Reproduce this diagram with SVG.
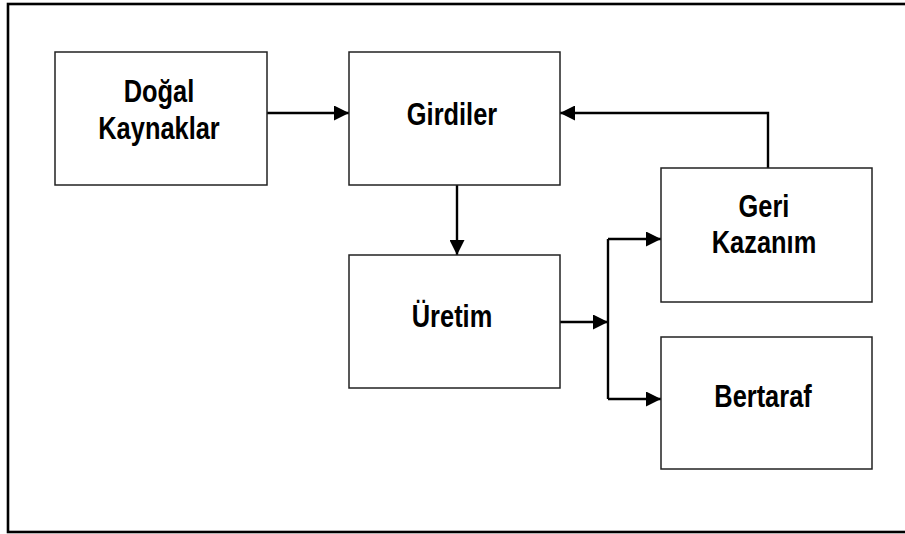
<svg xmlns="http://www.w3.org/2000/svg" width="905" height="534" viewBox="0 0 905 534">
  <style>
    .frame { fill: none; stroke: #000; stroke-width: 2.6; }
    .box { fill: #fff; stroke: #222; stroke-width: 1.5; }
    .lbl { font-family: "Liberation Sans", Arial, sans-serif; font-weight: bold; font-size: 31px; fill: #000; text-anchor: middle; }
    .con { fill: none; stroke: #000; stroke-width: 2.4; }
  </style>
  <defs>
    <marker id="arr" viewBox="0 0 15 15" refX="15" refY="7.5" markerWidth="15" markerHeight="15" markerUnits="userSpaceOnUse" orient="auto">
      <path d="M0,0 L15,7.5 L0,15 z" fill="#000"/>
    </marker>
  </defs>
  <rect x="0" y="0" width="905" height="534" fill="#fff"/>
  <rect class="frame" x="8" y="4" width="900" height="528"/>

  <g id="connectors">
    <path class="con" d="M267,113 H349" marker-end="url(#arr)"/>
    <path class="con" d="M457,185 V255" marker-end="url(#arr)"/>
    <path class="con" d="M768,168 V113 H560" marker-end="url(#arr)"/>
    <path class="con" d="M560,322 H608" marker-end="url(#arr)"/>
    <path class="con" d="M608,239 V399"/>
    <path class="con" d="M608,239 H661" marker-end="url(#arr)"/>
    <path class="con" d="M608,399 H661" marker-end="url(#arr)"/>
  </g>

  <g id="dogal-kaynaklar">
    <rect class="box" x="55" y="52" width="212" height="133"/>
    <text class="lbl" transform="translate(159 0) scale(0.82 1)" x="0" y="102">Doğal</text>
    <text class="lbl" transform="translate(159 0) scale(0.82 1)" x="0" y="139">Kaynaklar</text>
  </g>

  <g id="girdiler">
    <rect class="box" x="349" y="52" width="211" height="133"/>
    <text class="lbl" transform="translate(452 0) scale(0.82 1)" x="0" y="125">Girdiler</text>
  </g>

  <g id="uretim">
    <rect class="box" x="349" y="255" width="211" height="133"/>
    <text class="lbl" transform="translate(452 0) scale(0.82 1)" x="0" y="327">Üretim</text>
  </g>

  <g id="geri-kazanim">
    <rect class="box" x="661" y="168" width="211" height="134"/>
    <text class="lbl" transform="translate(764 0) scale(0.82 1)" x="0" y="217">Geri</text>
    <text class="lbl" transform="translate(764 0) scale(0.82 1)" x="0" y="253">Kazanım</text>
  </g>

  <g id="bertaraf">
    <rect class="box" x="661" y="337" width="211" height="132"/>
    <text class="lbl" transform="translate(763 0) scale(0.82 1)" x="0" y="407">Bertaraf</text>
  </g>
</svg>
